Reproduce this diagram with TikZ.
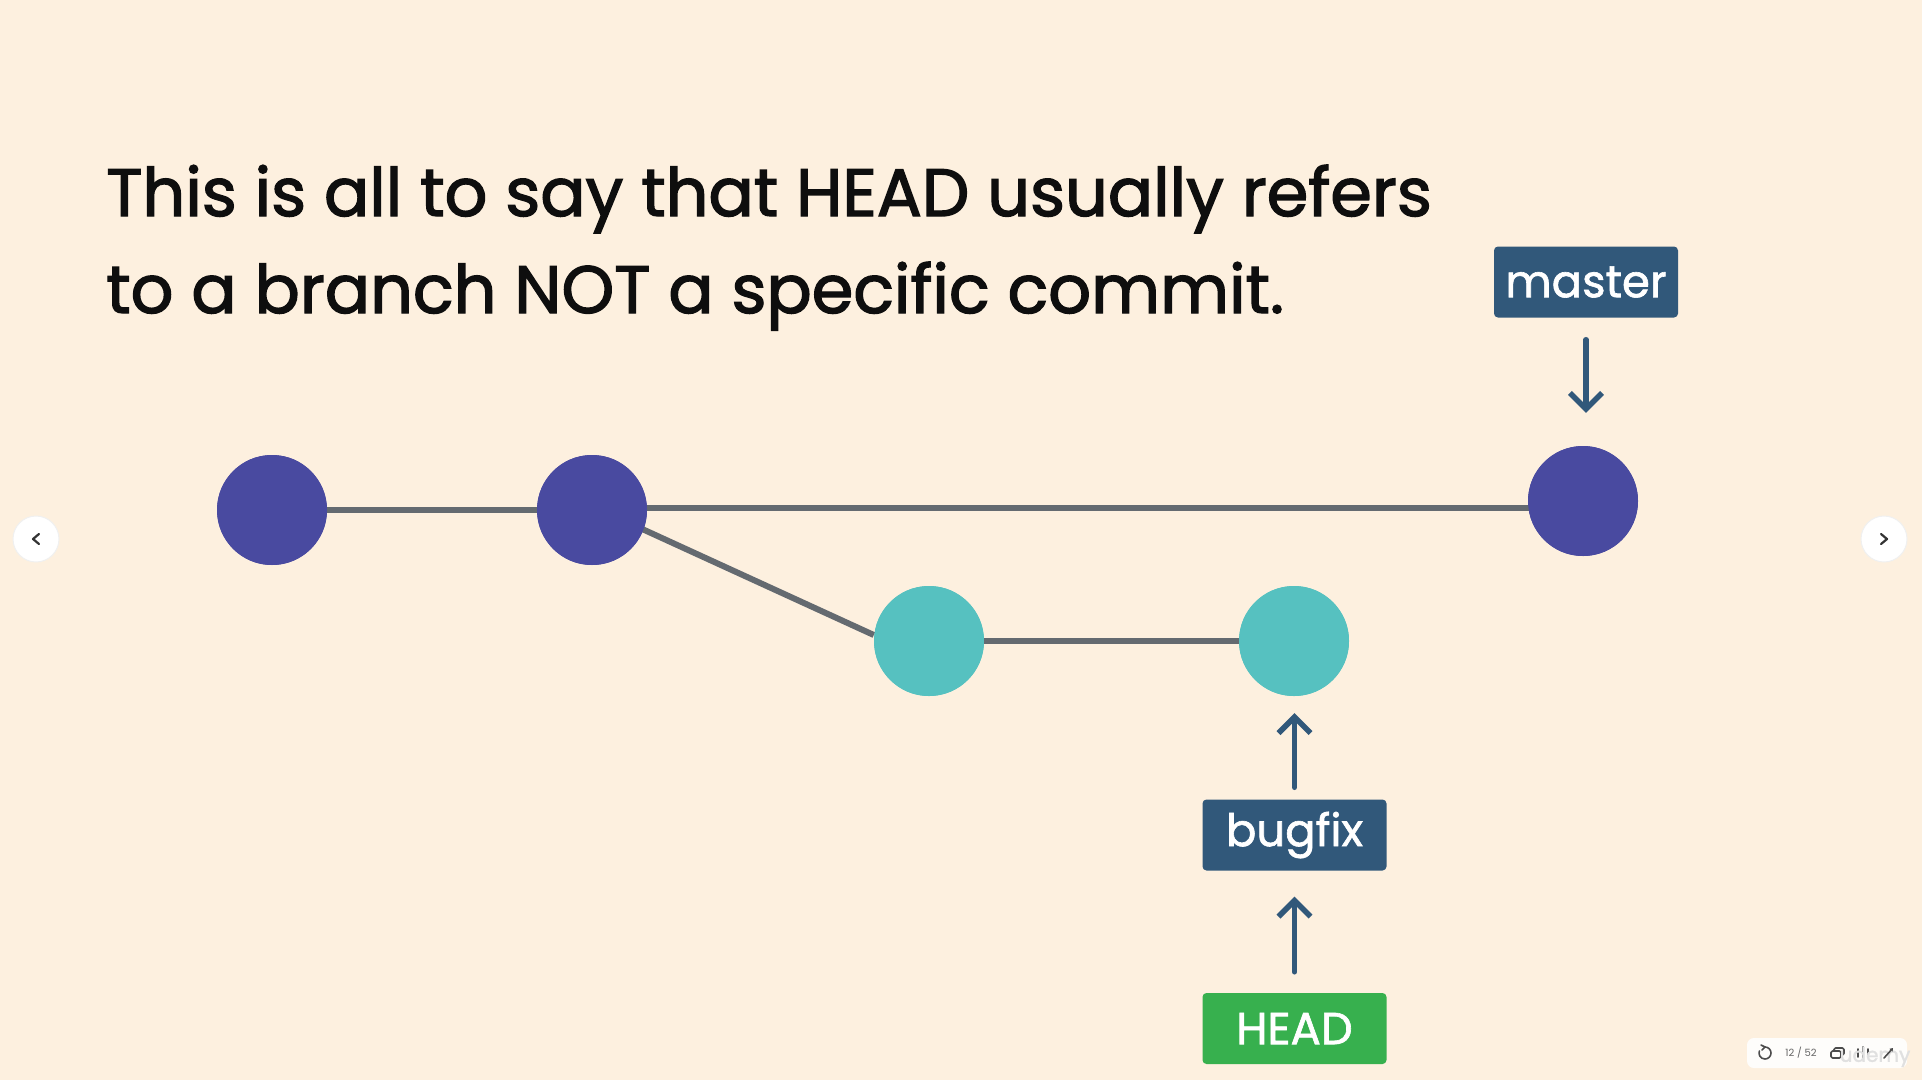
\documentclass[tikz,border=0pt]{standalone}
\usepackage{fontspec}
\setmainfont{Poppins}
\newfontfamily\titlefont{Poppins}[FakeBold=2]
\newfontfamily\reffont{Poppins}[FakeBold=1.4]
\usetikzlibrary{arrows.meta}
\definecolor{bg}{RGB}{253,240,223}
\definecolor{cdark}{RGB}{73,74,160}
\definecolor{cteal}{RGB}{86,193,192}
\definecolor{edgegray}{RGB}{100,106,112}
\definecolor{boxblue}{RGB}{49,88,122}
\definecolor{headgreen}{RGB}{55,176,78}
\definecolor{titleink}{RGB}{14,14,14}
\tikzset{
  commit/.style={circle, inner sep=0pt, minimum size=110pt},
  edge/.style={draw=edgegray, line width=6pt},
  titletext/.style={anchor=base west, inner sep=0pt, text=titleink, font=\titlefont\fontsize{67}{97}\selectfont},
  refbox/.style={rounded corners=4pt, minimum width=184pt, minimum height=71pt,
    inner sep=0pt, text=white, font=\reffont\fontsize{45}{48}\selectfont},
  ptr/.style={draw=boxblue, line width=5.5pt, line cap=round,
    -{Straight Barb[length=16pt, width=32pt, line width=5.5pt]}},
  navbtn/.style={circle, fill=white, draw=black!6, line width=1pt, minimum size=46pt, inner sep=0pt},
  icon/.style={black!70, line width=1.6pt, line cap=round, line join=round},
}
\begin{document}
\begin{tikzpicture}[x=1pt, y=-1pt]
\fill[bg] (0,0) rectangle (1922,1080);
\useasboundingbox (0,0) rectangle (1922,1080);

% title
\node[titletext] (t1) at (106,216) {This is all to say that HEAD usually refers};
\node[titletext] (t2) at (106,313) {to a branch NOT a specific commit.};

% commits
\node[commit, fill=cdark] (c1) at (272,510) {};
\node[commit, fill=cdark] (c2) at (592,510) {};
\node[commit, fill=cdark] (m) at (1583,501) {};
\node[commit, fill=cteal] (c3) at (929,641) {};
\node[commit, fill=cteal] (c4) at (1294,641) {};

\path[edge] (c1.center) -- (c2.center);
\path[edge] ([yshift=2pt]c2.center) -- ([yshift=2pt]c2.center -| m.center);
\path[edge] ([yshift=4pt]c2.center) -- ([yshift=6pt]c3.west);
\path[edge] (c3.center) -- (c4.center);
% circles above edges
\node[commit, fill=cdark] at (c1) {};
\node[commit, fill=cdark] at (c2) {};
\node[commit, fill=cdark] at (m) {};
\node[commit, fill=cteal] at (c3) {};
\node[commit, fill=cteal] at (c4) {};

% refs
\node[refbox, fill=boxblue] (master) at (1586,282) {master};
\node[refbox, fill=boxblue] (bugfix) at (1294.5,835) {bugfix};
\node[refbox, fill=headgreen] (head) at (1294.5,1028.5) {HEAD};

\draw[ptr, shorten <=22pt, shorten >=33pt] (master.south) -- (master.south |- m.north);
\draw[ptr, shorten <=12pt, shorten >=17pt] (bugfix.north) -- (bugfix.north |- c4.south);
\draw[ptr, shorten <=21pt, shorten >=26pt] (head.north) -- (bugfix.south);

% navigation buttons
\node[navbtn] (prev) at (36,539) {};
\node[navbtn] (next) at (1884,539) {};
\draw[black!80, line width=2.2pt, line cap=round, line join=round] ([xshift=3pt,yshift=-5pt]prev.center) -- ([xshift=-3pt]prev.center) -- ([xshift=3pt,yshift=5pt]prev.center);
\draw[black!80, line width=2.2pt, line cap=round, line join=round] ([xshift=-3pt,yshift=-5pt]next.center) -- ([xshift=3pt]next.center) -- ([xshift=-3pt,yshift=5pt]next.center);

% toolbar
\node[fill=white, fill opacity=0.9, rounded corners=7pt, minimum width=160pt, minimum height=30pt, inner sep=0pt] (bar) at (1827,1053) {};
\draw[icon] ([xshift=-62pt]bar.center) ++(0,-6) arc[start angle=90, end angle=-200, radius=6pt];
\draw[icon] ([xshift=-62pt,yshift=6pt]bar.center) -- ([xshift=-66pt,yshift=8pt]bar.center);
\draw[icon] ([xshift=-62pt,yshift=6pt]bar.center) -- ([xshift=-65pt,yshift=3pt]bar.center);
\node[text=black!60, font=\fontsize{10}{10}\selectfont, inner sep=0pt] (pg) at ([xshift=-26pt]bar.center) {12 / 52};
\draw[icon, rounded corners=1.5pt] ([xshift=4pt,yshift=-5pt]bar.center) rectangle ([xshift=14pt,yshift=2pt]bar.center);
\draw[icon, rounded corners=1.5pt] ([xshift=7pt,yshift=2pt]bar.center) -- ([xshift=7pt,yshift=5pt]bar.center) -- ([xshift=17pt,yshift=5pt]bar.center) -- ([xshift=17pt,yshift=-2pt]bar.center) -- ([xshift=14pt,yshift=-2pt]bar.center);
\draw[icon] ([xshift=36pt,yshift=-6pt]bar.center) -- ([xshift=36pt,yshift=6pt]bar.center);
\draw[icon] ([xshift=31pt,yshift=-4pt]bar.center) -- ([xshift=31pt,yshift=4pt]bar.center);
\draw[icon] ([xshift=41pt,yshift=-4pt]bar.center) -- ([xshift=41pt,yshift=4pt]bar.center);
\node[text=black!12, font=\reffont\fontsize{20}{20}\selectfont, inner sep=0pt] (wm) at ([xshift=48pt,yshift=-4pt]bar.center) {udemy};
\draw[icon, -{Triangle[length=3pt,width=4pt]}] ([xshift=57pt,yshift=-5pt]bar.center) -- ([xshift=66pt,yshift=5pt]bar.center);
\end{tikzpicture}
\end{document}
